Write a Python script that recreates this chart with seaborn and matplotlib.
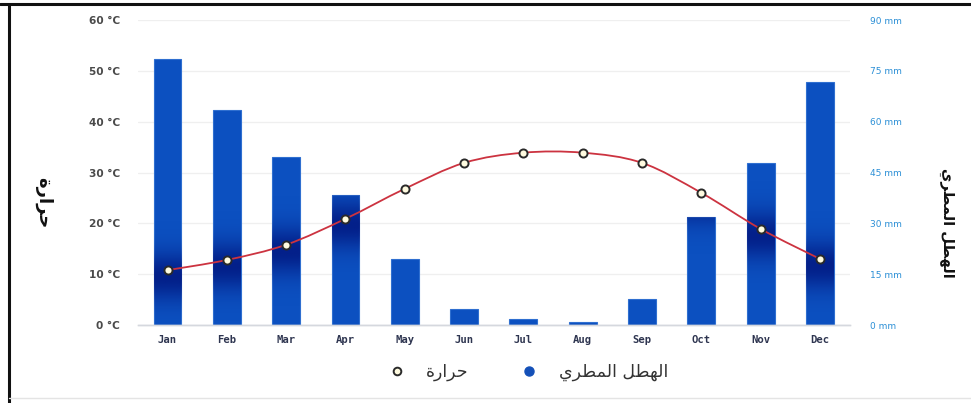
import numpy as np
import matplotlib
matplotlib.use("Agg")
import matplotlib.pyplot as plt
from matplotlib.path import Path
from matplotlib.patches import PathPatch
from matplotlib.lines import Line2D
from matplotlib.colors import to_rgb
import seaborn as sns

# Monthly climate data
months = ["Jan", "Feb", "Mar", "Apr", "May", "Jun",
          "Jul", "Aug", "Sep", "Oct", "Nov", "Dec"]
rain_mm = [78.5, 63.5, 49.5, 38.5, 19.5, 4.7, 1.8, 0.9, 7.7, 32.0, 47.8, 71.7]
temp_c = [10.8, 12.8, 15.8, 20.9, 26.8, 31.9, 33.9, 33.9, 31.9, 26.0, 18.9, 13.0]

temp_ticks = [0, 10, 20, 30, 40, 50, 60]
rain_ticks = [0, 15, 30, 45, 60, 75, 90]

# Arabic labels written in presentation forms (visual order) so that
# matplotlib renders the joined glyphs correctly.
label_temp = "\uFE93\uFEAD\uFE8D\uFEAE\uFEA3"                      # حرارة
label_rain = ("\uFEF1\uFEAE\uFEC4\uFEE4\uFEDF\uFE8D "
              "\uFEDE\uFEC4\uFEEC\uFEDF\uFE8D")                      # الهطل المطري

sns.set_style("white")
plt.rcParams["font.family"] = ["DejaVu Sans"]

BAR = "#0c50c0"
BAR_EDGE = "#2f6fd0"
LINE = "#cc3340"
TEMP_MAX, RAIN_MAX = 60, 90

fig = plt.figure(figsize=(9.71, 4.03), dpi=100)
ax = fig.add_axes([0.142, 0.1935, 0.733, 0.7568])   # rain (bars), right scale
ax2 = ax.twinx()                                     # temperature, left scale

# precipitation bars
sns.barplot(x=months, y=rain_mm, ax=ax, color=BAR, saturation=1,
            width=0.47, edgecolor=BAR_EDGE, linewidth=0.8, zorder=2)
ax.set_ylim(0, RAIN_MAX)
ax.set_xlim(-0.5, 11.5)
ax.set_yticks(rain_ticks)
ax.set_yticklabels([f"{v} mm" for v in rain_ticks])
ax.yaxis.tick_right()
ax.grid(axis="y", color="#efefef", linewidth=0.9, zorder=0)
ax.set_axisbelow(True)
ax.set_xlabel("")
ax.set_ylabel("")

# dark glow inside each bar around the temperature marker
glow_rgb = to_rgb("#001078")
yy = np.linspace(0, RAIN_MAX, 400)
for patch, t in zip(ax.patches, temp_c):
    centre = t * RAIN_MAX / TEMP_MAX - 2.0
    alpha = 0.75 * np.exp(-0.5 * ((yy - centre) / 5.0) ** 2)
    img = np.zeros((len(yy), 2, 4))
    img[..., :3] = glow_rgb
    img[..., 3] = alpha[:, None]
    x0 = patch.get_x()
    im = ax.imshow(img, extent=(x0, x0 + patch.get_width(), 0, RAIN_MAX),
                   origin="lower", aspect="auto", interpolation="bilinear",
                   zorder=2.5)
    im.set_clip_path(patch)
ax.set_xlim(-0.5, 11.5)
ax.set_ylim(0, RAIN_MAX)

# temperature: smooth curve through the monthly values
xs = np.arange(len(temp_c), dtype=float)
ys = np.asarray(temp_c, dtype=float)
px = np.concatenate([[xs[0]], xs, [xs[-1]]])
py = np.concatenate([[ys[0]], ys, [ys[-1]]])
verts = [(xs[0], ys[0])]
codes = [Path.MOVETO]
for i in range(1, len(xs)):
    p0 = np.array([px[i - 1], py[i - 1]])
    p1 = np.array([px[i], py[i]])
    p2 = np.array([px[i + 1], py[i + 1]])
    p3 = np.array([px[i + 2], py[i + 2]])
    c1 = p1 + (p2 - p0) / 6.0
    c2 = p2 - (p3 - p1) / 6.0
    verts += [tuple(c1), tuple(c2), tuple(p2)]
    codes += [Path.CURVE4] * 3
ax2.add_patch(PathPatch(Path(verts, codes), transform=ax2.transData,
                        facecolor="none", edgecolor=LINE, linewidth=1.3,
                        zorder=3))
sns.scatterplot(x=xs, y=ys, ax=ax2, s=34, color="#fffbe0",
                edgecolor="#2a2a2a", linewidth=1.4, zorder=4)
ax2.set_ylim(0, TEMP_MAX)
ax2.set_xlim(-0.5, 11.5)
ax2.set_yticks(temp_ticks)
ax2.set_yticklabels([f"{v} °C" for v in temp_ticks])
ax2.yaxis.tick_left()
ax2.set_ylabel("")

for a in (ax, ax2):
    for s in ("top", "left", "right"):
        a.spines[s].set_visible(False)
    a.spines["bottom"].set_color("#d5d8de")
    a.spines["bottom"].set_linewidth(1.0)

ax.tick_params(axis="y", length=0, pad=14.5, labelsize=6.5,
               labelcolor="#2b8fd6")
ax2.tick_params(axis="y", length=0, pad=13, labelsize=7.6,
                labelcolor="#4a4a4a")
for t in ax2.get_yticklabels():
    t.set_fontweight("bold")

ax.set_xticks(range(len(months)))
ax.set_xticklabels(months, family="DejaVu Sans Mono", fontweight="bold",
                   fontsize=7.6, color="#2e3550")
ax.tick_params(axis="x", which="major", length=0, pad=7)
ax.set_xticks(np.arange(-0.5, 12, 1.0), minor=True)
ax.tick_params(axis="x", which="minor", length=5, width=0.8,
               color="#cfd3da")
ax2.tick_params(axis="x", length=0, labelbottom=False)

# axis titles
fig.text(0.045, 1 - 203 / 403, label_temp, rotation=270, ha="center",
         va="center", fontsize=13, fontweight="bold", color="#111111")
fig.text(0.975, 1 - 223 / 403, label_rain, rotation=270, ha="center",
         va="center", fontsize=10.5, fontweight="bold", color="#111111")

# legend
handles = [
    Line2D([], [], linestyle="none", marker="o", markersize=5.5,
           markerfacecolor="#fffbe0", markeredgecolor="#2a2a2a",
           markeredgewidth=1.4),
    Line2D([], [], linestyle="none", marker="o", markersize=6.5,
           markerfacecolor="#1450b8", markeredgecolor="#1450b8"),
]
fig.legend(handles, [label_temp, label_rain], loc="center",
           bbox_to_anchor=(528 / 971, 1 - 372 / 403), ncol=2, frameon=False,
           fontsize=12.5, labelcolor="#333333", columnspacing=3.0,
           handletextpad=1.2, handlelength=1.0)

# outer frame
fig.add_artist(Line2D([0, 1], [0.989, 0.989], color="#111111",
                      linewidth=2.2, transform=fig.transFigure))
fig.add_artist(Line2D([0.0095, 0.0095], [0.0, 0.989], color="#111111",
                      linewidth=2.2, transform=fig.transFigure))
fig.add_artist(Line2D([0.0095, 1], [0.012, 0.012], color="#e4e4e4",
                      linewidth=1.0, transform=fig.transFigure))

fig.savefig("out.png", dpi=100, facecolor="white")
